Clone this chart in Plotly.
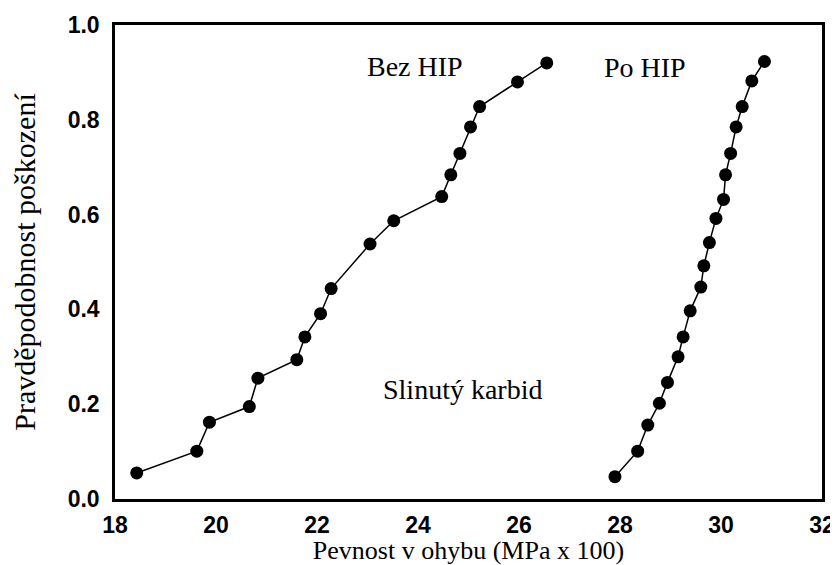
import plotly.graph_objects as go

# Bez HIP (without HIP)
bez_x = [18.43, 19.62, 19.87, 20.66, 20.83, 21.60, 21.76, 22.07, 22.28,
         23.05, 23.52, 24.47, 24.65, 24.83, 25.04, 25.22, 25.97, 26.55]
bez_y = [0.055, 0.101, 0.162, 0.195, 0.255, 0.294, 0.342, 0.391, 0.444,
         0.538, 0.587, 0.638, 0.684, 0.729, 0.785, 0.828, 0.880, 0.920]

# Po HIP (after HIP)
po_x = [27.90, 28.35, 28.55, 28.78, 28.94, 29.15, 29.25, 29.39, 29.60,
        29.66, 29.77, 29.90, 30.05, 30.09, 30.19, 30.30, 30.42, 30.61, 30.86]
po_y = [0.047, 0.101, 0.156, 0.202, 0.246, 0.300, 0.342, 0.397, 0.447,
        0.492, 0.541, 0.592, 0.632, 0.684, 0.729, 0.785, 0.828, 0.882, 0.923]

x_ticks = [18, 20, 22, 24, 26, 28, 30, 32]
y_ticks = [0.0, 0.2, 0.4, 0.6, 0.8, 1.0]

fig = go.Figure()
for xs, ys in [(bez_x, bez_y), (po_x, po_y)]:
    fig.add_trace(go.Scatter(
        x=xs, y=ys, mode="lines+markers",
        line=dict(color="black", width=1.5),
        marker=dict(color="black", size=13),
        showlegend=False,
    ))

serif = "Liberation Serif, Times New Roman, serif"
sans = "Liberation Sans, Arial, sans-serif"
fig.add_annotation(x=23.94, y=0.913, text="Bez HIP", showarrow=False,
                   font=dict(family=serif, size=28, color="black"))
fig.add_annotation(x=28.50, y=0.911, text="Po HIP", showarrow=False,
                   font=dict(family=serif, size=28, color="black"))
fig.add_annotation(x=24.89, y=0.232, text="Slinutý karbid", showarrow=False,
                   font=dict(family=serif, size=28, color="black"))

# page body has an 8px default margin, so the figure is 8px smaller
fig.update_layout(
    width=830, height=557,
    margin=dict(l=107, r=16, t=17, b=66),
    paper_bgcolor="white", plot_bgcolor="white",
    xaxis=dict(
        range=[18, 32], tickvals=x_ticks, ticktext=[str(t) for t in x_ticks],
        showgrid=False, zeroline=False, showline=True, linecolor="black",
        linewidth=2.5, mirror=True, ticks="", ticklabelstandoff=4,
        automargin=False,
        tickfont=dict(family=sans, size=23, color="black", weight="bold"),
        title=dict(text="Pevnost v ohybu (MPa x 100)", standoff=2,
                   font=dict(family=serif, size=26, color="black")),
    ),
    yaxis=dict(
        range=[0, 1], tickvals=y_ticks, ticktext=[f"{t:.1f}" for t in y_ticks],
        showgrid=False, zeroline=False, showline=True, linecolor="black",
        linewidth=2.5, mirror=True, ticks="", ticklabelstandoff=8,
        automargin=False,
        tickfont=dict(family=sans, size=23, color="black", weight="bold"),
        title=dict(text="Pravděpodobnost poškození", standoff=28,
                   font=dict(family=serif, size=30, color="black")),
    ),
)

fig.write_html("out.html")
